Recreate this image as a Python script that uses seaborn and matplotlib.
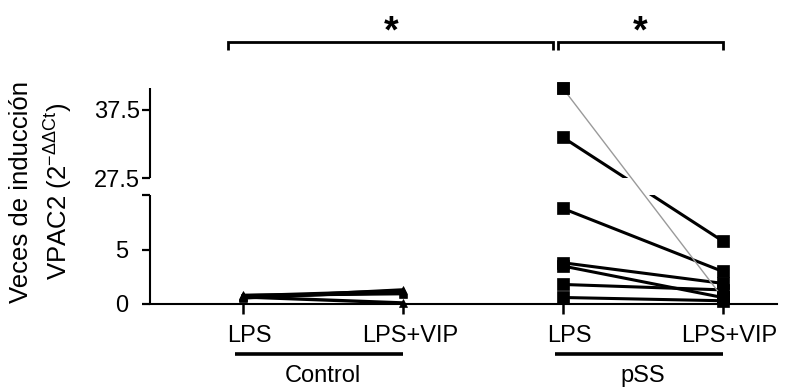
import numpy as np
import pandas as pd
import matplotlib
matplotlib.use("Agg")
import matplotlib.pyplot as plt
import matplotlib.transforms as mtrans
import seaborn as sns

# ---------------- data ----------------
conditions = ["LPS", "LPS+VIP"]
groups = ["Control", "pSS"]
control_lps = [0.55, 0.60, 0.70, 0.75, 0.80, 0.65]
control_vip = [1.30, 1.15, 1.05, 1.20, 0.95, 0.10]
pss_lps = [40.7, 33.5, 8.8, 3.8, 3.5, 1.8, 0.6]
pss_vip = [0.6, 5.8, 3.0, 1.9, 0.6, 1.3, 0.3]
pss_thin = [1, 0, 0, 0, 0, 0, 0]          # subject drawn with thin grey line
ytick_lower = [0, 5, 10]
ytick_lower_labels = ["0", "5", ""]
ytick_upper = [27.5, 37.5]
ytick_upper_labels = ["27.5", "37.5"]
break_low, break_high, y_top = 10, 27.5, 40.7
comparisons = [((0, 0), (1, 0)), ((1, 0), (1, 1))]   # (group, condition) pairs
signif = ["*", "*"]
ylabel = "Veces de inducción\nVPAC2 (2$^{\\mathregular{-ΔΔCt}}$)"

# ---------------- long table ----------------
rows = []
for gi, (g, a_vals, b_vals) in enumerate(zip(groups, [control_lps, pss_lps], [control_vip, pss_vip])):
    for si, (a, b) in enumerate(zip(a_vals, b_vals)):
        thin = pss_thin[si] if g == "pSS" else 0
        rows.append(dict(group=g, subject=f"{g}{si}", x=gi * 2 + 0, y=a, thin=thin))
        rows.append(dict(group=g, subject=f"{g}{si}", x=gi * 2 + 1, y=b, thin=thin))
df = pd.DataFrame(rows)

# ---------------- broken y scale ----------------
k_gap = (17 / 10.8) / (break_high - break_low)
k_hi = 6.8 / 10.8
gap_top = break_low + (break_high - break_low) * k_gap


def fwd(y):
    y = np.asarray(y, dtype=float)
    return np.where(y <= break_low, y,
                    np.where(y < break_high, break_low + (y - break_low) * k_gap,
                             gap_top + (y - break_high) * k_hi))


def inv(t):
    t = np.asarray(t, dtype=float)
    return np.where(t <= break_low, t,
                    np.where(t < gap_top, break_low + (t - break_low) / k_gap,
                             break_high + (t - gap_top) / k_hi))


sns.set_theme(style="ticks")
plt.rcParams["font.family"] = ["Liberation Sans", "DejaVu Sans"]
plt.rcParams["mathtext.fontset"] = "custom"
plt.rcParams["mathtext.rm"] = "Liberation Sans"
for key in ["text.color", "axes.labelcolor", "xtick.color", "ytick.color",
            "xtick.labelcolor", "ytick.labelcolor"]:
    plt.rcParams[key] = "black"

fig = plt.figure(figsize=(7.96, 3.90), dpi=100)
ax = fig.add_axes([150 / 796, 86 / 390, 627 / 796, 216 / 390])
ax.set_yscale("function", functions=(fwd, inv))

ctrl = df[df.group == "Control"]
pss_black = df[(df.group == "pSS") & (df.thin == 0)]
pss_grey = df[(df.group == "pSS") & (df.thin == 1)]

sns.lineplot(data=ctrl, x="x", y="y", units="subject", estimator=None, color="black",
             lw=2.4, marker="^", markersize=6, mec="black", mew=0.5, ax=ax,
             legend=False, zorder=2)
sns.lineplot(data=pss_black, x="x", y="y", units="subject", estimator=None, color="black",
             lw=2.2, marker="s", markersize=8, mec="black", mew=0.5, ax=ax,
             legend=False, zorder=2)
ax.axhspan(break_low, break_high, color="white", lw=0, zorder=3)
sns.lineplot(data=pss_grey, x="x", y="y", units="subject", estimator=None, color="#9a9a9a",
             lw=1.0, ax=ax, legend=False, zorder=4)
sns.scatterplot(data=pss_grey, x="x", y="y", marker="s", s=64, color="black",
                edgecolor="black", ax=ax, legend=False, zorder=5)
for ln in ax.lines:
    ln.set_clip_on(False)
for c in ax.collections:
    c.set_clip_on(False)

ax.set_xlim(-0.58, 3.34)
ax.set_ylim(0, y_top)

# axes styling
for s in ["top", "right", "left"]:
    ax.spines[s].set_visible(False)
ax.spines["bottom"].set_linewidth(1.5)
ax.spines["bottom"].set_color("black")
yt = mtrans.blended_transform_factory(ax.transAxes, ax.transData)
for lo, hi in [(0, break_low), (break_high, y_top)]:
    ax.plot([0, 0], [lo, hi], transform=yt, color="black", lw=1.5, clip_on=False,
            solid_capstyle="butt", zorder=6)

ax.set_yticks(ytick_lower, labels=ytick_lower_labels)
ax.set_yticks(ytick_upper, labels=ytick_upper_labels, minor=True)
ax.tick_params(axis="y", which="major", left=True, length=6, width=1.6, pad=10,
               labelsize=17, color="black")
ax.tick_params(axis="y", which="minor", left=True, length=6, width=1.6, pad=1,
               labelsize=17, color="black")

ax.set_xticks(range(len(groups) * len(conditions)), labels=conditions * len(groups))
ax.tick_params(axis="x", bottom=True, length=7, width=1.8, pad=8, labelsize=17,
               color="black")
ax.set_xlabel("")
ax.set_ylabel(ylabel, fontsize=18.5, linespacing=1.3, color="black")
ax.yaxis.set_label_coords(-0.122, 0.52)

shift = mtrans.ScaledTranslation(7 / 100, 0, fig.dpi_scale_trans)
for lbl in ax.get_xticklabels():
    lbl.set_transform(lbl.get_transform() + shift)

# group underlines and names
bt = mtrans.blended_transform_factory(ax.transData, ax.transAxes)
for gi, g in enumerate(groups):
    x0 = gi * 2
    ax.plot([x0 - 0.05, x0 + 1.0], [-0.231, -0.231], transform=bt, color="black",
            lw=2.6, clip_on=False, solid_capstyle="butt")
    ax.text(x0 + 0.5, -0.333, g, transform=bt, ha="center", va="center", fontsize=17)

# significance brackets
for (a, b), star in zip(comparisons, signif):
    xa = a[0] * 2 + a[1]
    xb = b[0] * 2 + b[1]
    x_left = xa - 0.09 if a[0] == 0 else xa - 0.03
    x_right = xb - 0.06 if b[1] == 0 else xb
    ax.plot([x_left, x_left, x_right, x_right], [1.176, 1.213, 1.213, 1.176],
            transform=bt, color="black", lw=2.0, clip_on=False,
            solid_capstyle="butt", solid_joinstyle="miter")
    ax.text((x_left + x_right) / 2, 1.255, star, transform=bt, ha="center",
            va="center", fontsize=27, fontweight="bold")

fig.savefig("out.png", dpi=100)
